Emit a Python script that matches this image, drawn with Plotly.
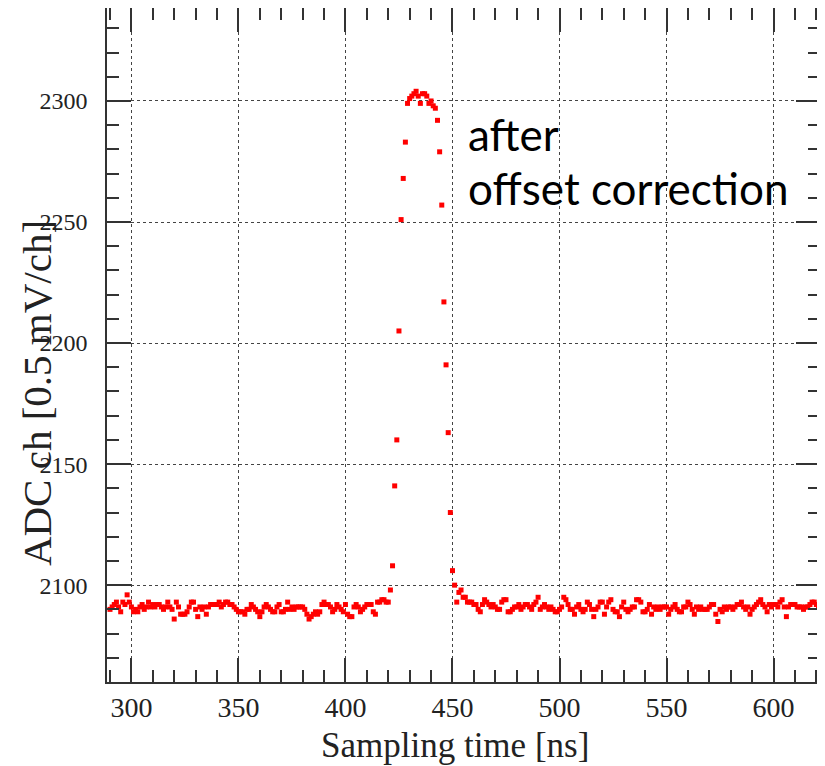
import plotly.graph_objects as go

# sampling grid of the digitizer: 1 ns per sample
t_first = 290
t_last = 621

# ADC counts, split into pieces
adc_baseline_pre = [
    2090, 2091, 2092, 2093, 2091, 2089, 2093, 2092, 2096, 2093,  # 290-299
    2091, 2089, 2090, 2089, 2091, 2092, 2090, 2091, 2093, 2091,  # 300-309
    2092, 2091, 2092, 2092, 2091, 2090, 2091, 2093, 2091, 2090,  # 310-319
    2086, 2093, 2091, 2088, 2088, 2088, 2089, 2091, 2093, 2093,  # 320-329
    2090, 2087, 2091, 2090, 2091, 2088, 2091, 2092, 2092, 2092,  # 330-339
    2092, 2093, 2091, 2092, 2093, 2093, 2092, 2092, 2091, 2090,  # 340-349
    2089, 2089, 2089, 2088, 2090, 2090, 2092, 2091, 2090, 2089,  # 350-359
    2087, 2089, 2091, 2092, 2091, 2090, 2089, 2089, 2091, 2092,  # 360-369
    2089, 2089, 2090, 2093, 2090, 2091, 2090, 2091, 2091, 2091,  # 370-379
    2091, 2090, 2088, 2086, 2087, 2088, 2089, 2088, 2089, 2092,  # 380-389
    2093, 2092, 2092, 2091, 2089, 2090, 2092, 2091, 2090, 2089,  # 390-399
    2092, 2088, 2087, 2087, 2091, 2092, 2091, 2089, 2090, 2091,  # 400-409
    2092, 2092, 2092, 2089, 2088, 2093, 2093, 2094, 2094, 2093,  # 410-419
    2093,                                                        # 420
]

adc_pulse = [
    2098, 2108, 2141, 2160, 2205, 2251, 2268, 2283, 2299,        # 421-429
    2301, 2302, 2303, 2304, 2302, 2299, 2303, 2303, 2302, 2299,  # 430-439
    2300, 2298, 2297, 2292, 2279, 2257, 2217, 2191, 2163, 2130,  # 440-449
    2106, 2100, 2093, 2097, 2098, 2095, 2095, 2093, 2093, 2093,  # 450-459
]

adc_baseline_post = [
    2092, 2092, 2090, 2089, 2092, 2094, 2093, 2092, 2091, 2092,  # 460-469
    2091, 2090, 2090, 2093, 2094, 2094, 2089, 2089, 2090, 2091,  # 470-479
    2091, 2092, 2090, 2091, 2092, 2092, 2091, 2090, 2092, 2093,  # 480-489
    2095, 2090, 2091, 2092, 2091, 2090, 2091, 2090, 2089, 2089,  # 490-499
    2090, 2091, 2095, 2094, 2092, 2090, 2090, 2088, 2091, 2092,  # 500-509
    2090, 2089, 2090, 2093, 2092, 2090, 2087, 2090, 2091, 2093,  # 510-519
    2093, 2088, 2091, 2093, 2094, 2090, 2089, 2089, 2087, 2091,  # 520-529
    2093, 2090, 2089, 2090, 2091, 2091, 2094, 2094, 2093, 2089,  # 530-539
    2089, 2090, 2092, 2088, 2091, 2090, 2091, 2090, 2091, 2091,  # 540-549
    2091, 2088, 2090, 2091, 2092, 2090, 2089, 2089, 2091, 2091,  # 550-559
    2093, 2092, 2090, 2088, 2091, 2090, 2091, 2090, 2090, 2090,  # 560-569
    2091, 2092, 2092, 2088, 2085, 2090, 2089, 2091, 2090, 2091,  # 570-579
    2091, 2090, 2091, 2092, 2092, 2093, 2091, 2090, 2091, 2088,  # 580-589
    2090, 2091, 2092, 2093, 2094, 2092, 2091, 2089, 2092, 2091,  # 590-599
    2092, 2092, 2091, 2093, 2094, 2091, 2087, 2091, 2092, 2092,  # 600-609
    2092, 2091, 2091, 2091, 2090, 2091, 2091, 2092, 2093, 2093,  # 610-619
    2092, 2091,                                                  # 620-621
]

adc = adc_baseline_pre + adc_pulse + adc_baseline_post
t_ns = list(range(t_first, t_last + 1))

serif = "Liberation Serif"

fig = go.Figure()
fig.add_trace(go.Scatter(
    x=t_ns, y=adc, mode="markers",
    marker=dict(symbol="square", size=5, color="#ff0000", line=dict(width=0)),
    showlegend=False, hoverinfo="x+y",
))

axis_common = dict(
    showline=True, linecolor="#333333", linewidth=1.5, mirror="allticks",
    ticks="inside", ticklen=24, tickwidth=1.5, tickcolor="#333333",
    showgrid=True, gridcolor="#444444", gridwidth=1, griddash="dot",
    zeroline=False, automargin=False,
)

fig.update_xaxes(
    range=[288.6, 621.7], dtick=50, tick0=0,
    minor=dict(ticks="inside", ticklen=12, dtick=10, tickcolor="#333333", showgrid=False),
    tickfont=dict(family=serif, size=28, color="#222222"),
    ticklabelstandoff=0,
    **axis_common,
)
fig.update_yaxes(
    range=[2060, 2338.4], dtick=50, tick0=0,
    minor=dict(ticks="inside", ticklen=12, dtick=10, tickcolor="#333333", showgrid=False),
    tickfont=dict(family=serif, size=24, color="#222222"),
    ticklabelstandoff=13,
    **axis_common,
)

fig.add_annotation(text="Sampling time [ns]", xref="paper", yref="paper",
                   x=0.488, y=-0.0935, xanchor="center", yanchor="middle", showarrow=False,
                   font=dict(family=serif, size=35, color="#222222"))
fig.add_annotation(text="ADC ch [0.5 mV/ch]", xref="paper", yref="paper",
                   x=-0.098, y=0.4288, xanchor="center", yanchor="middle",
                   textangle=-90, showarrow=False,
                   font=dict(family=serif, size=41, color="#222222"))

# label written on the slide
fig.add_annotation(text="after", xref="paper", yref="paper",
                   x=0.504, y=0.813, xanchor="left", yanchor="middle", showarrow=False,
                   font=dict(family="Lato", size=44, color="black"))
fig.add_annotation(text="offset correction", xref="paper", yref="paper",
                   x=0.504, y=0.733, xanchor="left", yanchor="middle", showarrow=False,
                   font=dict(family="Lato", size=44, color="black"))

# the page adds 8 px of body margin, so the figure is shrunk by that much
fig.update_layout(
    width=817, height=758,
    margin=dict(l=99, r=5, t=0, b=84),
    paper_bgcolor="white", plot_bgcolor="white",
)

fig.write_html("out.html")
